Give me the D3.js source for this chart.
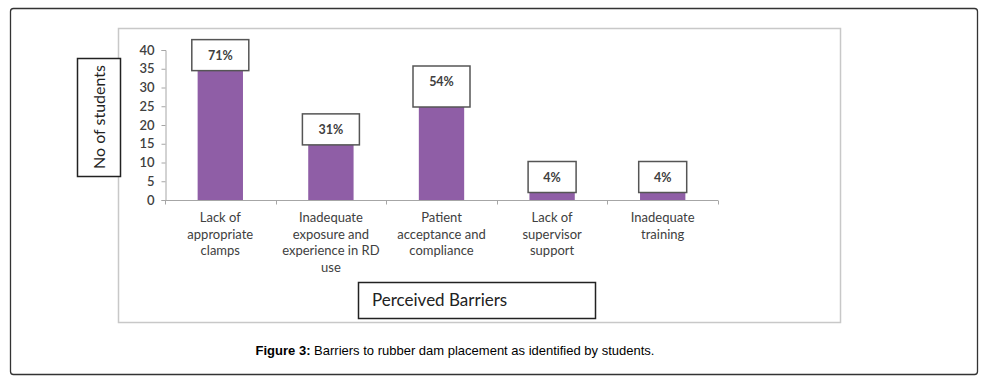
<!DOCTYPE html>
<html>
<head>
<meta charset="utf-8">
<script src="https://cdn.jsdelivr.net/npm/d3@7"></script>
<style>
  body { margin: 0; background: #fff; }
  svg text { font-family: Lato, "Open Sans", sans-serif; }
</style>
</head>
<body>
<svg id="chart" width="986" height="388"></svg>
<script>
// Data
const categories = [
    ["Lack of", "appropriate", "clamps"],
    ["Inadequate", "exposure and", "experience in RD", "use"],
    ["Patient", "acceptance and", "compliance"],
    ["Lack of", "supervisor", "support"],
    ["Inadequate", "training"]
];
const students = [34.5, 14.7, 24.8, 2, 2];
const percentLabels = ["71%", "31%", "54%", "4%", "4%"];
const yTicks = [0, 5, 10, 15, 20, 25, 30, 35, 40];

const svg = d3.select("#chart");
const barColor = "#8f5ea6";
const axisColor = "#a6a6a6";
const textColor = "#404040";

// outer figure frame
svg.append("rect")
    .attr("x", 10.5).attr("y", 8.5)
    .attr("width", 967).attr("height", 366)
    .attr("rx", 3)
    .attr("fill", "none")
    .attr("stroke", "#333")
    .attr("stroke-width", 1.3);

// chart area border
svg.append("rect")
    .attr("x", 118.5).attr("y", 28.5)
    .attr("width", 722).attr("height", 294)
    .attr("fill", "#fff")
    .attr("stroke", "#c8c8c8")
    .attr("stroke-width", 1.5);

// scales
const x = d3.scaleBand()
    .domain(d3.range(categories.length))
    .range([165, 718])
    .paddingInner(0.59)
    .paddingOuter(0.295);

const y = d3.scaleLinear()
    .domain([0, 40])
    .range([200, 50]);

// y axis
const yAxis = svg.append("g")
    .attr("transform", "translate(165.5,0)")
    .call(d3.axisLeft(y).tickValues(yTicks).tickSize(4).tickPadding(7));
yAxis.select(".domain").attr("stroke", axisColor);
yAxis.selectAll(".tick line").attr("stroke", axisColor);
yAxis.selectAll(".tick text")
    .attr("fill", textColor)
    .style("font-size", "13px")
    .style("font-weight", "600")
    .style("font-family", "Lato, sans-serif");

// x axis (ticks at category boundaries like Excel)
const xAxis = svg.append("g")
    .attr("transform", "translate(0,200.5)")
    .call(d3.axisBottom(x).tickSize(0).tickFormat(""));
xAxis.select(".domain").attr("stroke", axisColor).attr("d", "M165,0H718");
const step = x.step();
d3.range(categories.length + 1).forEach(i => {
    const bx = Math.round(165 + i * step) + 0.5;
    xAxis.append("line")
        .attr("x1", bx).attr("x2", bx)
        .attr("y1", 0).attr("y2", 4)
        .attr("stroke", axisColor);
});

// bars
svg.selectAll(".bar")
    .data(students)
    .enter().append("rect")
    .attr("class", "bar")
    .attr("x", (d, i) => x(i))
    .attr("y", d => y(d))
    .attr("width", x.bandwidth())
    .attr("height", d => y(0) - y(d))
    .attr("fill", barColor);

// data label boxes
const labelExtra = [0, 0, 10, 0, 0]; // third callout is drawn taller in the original
percentLabels.forEach((lab, i) => {
    const cx = x(i) + x.bandwidth() / 2;
    const bottom = y(students[i]);
    const h = 31 + labelExtra[i];
    const w = lab.length > 2 ? 57 : 48;
    const g = svg.append("g");
    g.append("rect")
        .attr("x", cx - w / 2).attr("y", bottom - h)
        .attr("width", w).attr("height", h)
        .attr("fill", "#fff")
        .attr("stroke", "#555")
        .attr("stroke-width", 1.5);
    g.append("text")
        .attr("x", cx).attr("y", bottom - h + 20)
        .attr("text-anchor", "middle")
        .attr("fill", textColor)
        .style("font-size", "12.5px")
        .style("font-weight", "700")
        .text(lab);
});

// category labels
categories.forEach((lines, i) => {
    const cx = x(i) + x.bandwidth() / 2;
    const t = svg.append("text")
        .attr("text-anchor", "middle")
        .attr("fill", textColor)
        .style("font-size", "13px");
    lines.forEach((ln, j) => {
        t.append("tspan")
            .attr("x", cx)
            .attr("y", 222 + j * 16.7)
            .text(ln);
    });
});

// y axis title box
svg.append("rect")
    .attr("x", 77.5).attr("y", 58.5)
    .attr("width", 43).attr("height", 118)
    .attr("fill", "#fff")
    .attr("stroke", "#222")
    .attr("stroke-width", 1.5);
svg.append("text")
    .attr("transform", "translate(105,117) rotate(-90)")
    .attr("text-anchor", "middle")
    .attr("fill", "#222")
    .style("font-size", "16px")
    .text("No of students");

// x axis title box
svg.append("rect")
    .attr("x", 358.5).attr("y", 282.5)
    .attr("width", 237).attr("height", 36)
    .attr("fill", "#fff")
    .attr("stroke", "#222")
    .attr("stroke-width", 1.5);
svg.append("text")
    .attr("x", 372).attr("y", 306)
    .attr("fill", "#222")
    .style("font-size", "17px")
    .text("Perceived Barriers");

// caption
const cap = svg.append("text")
    .attr("x", 455).attr("y", 355)
    .attr("text-anchor", "middle")
    .attr("fill", "#000")
    .style("font-family", "'Liberation Sans', Arial, sans-serif")
    .style("font-size", "13px");
cap.append("tspan").style("font-weight", "700").text("Figure 3:");
cap.append("tspan").text(" Barriers to rubber dam placement as identified by students.");
</script>
</body>
</html>
